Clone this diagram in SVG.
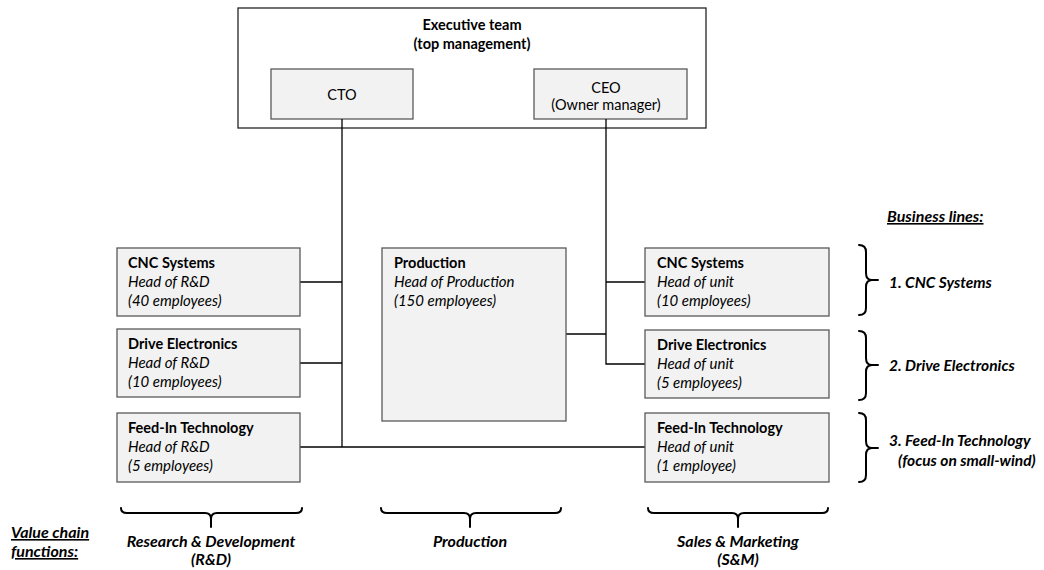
<svg xmlns="http://www.w3.org/2000/svg" width="1044" height="570" viewBox="0 0 1044 570">
  <style>
    text { font-family: Lato, "Open Sans", "Liberation Sans", sans-serif; font-size: 14.5px; fill: #000; }
    .b { font-weight: bold; }
    .i { font-style: italic; font-size: 15px; }
    .bi { font-weight: bold; font-style: italic; font-size: 15.5px; }
    .lg { font-size: 16px; }
    .u { text-decoration: underline; }
    .mid { text-anchor: middle; }
    .box { fill: #f2f2f2; stroke: #595959; stroke-width: 1.3; }
    .frame { fill: #fff; stroke: #262626; stroke-width: 1.3; }
    .conn { fill: none; stroke: #000; stroke-width: 1.3; }
    .brace { fill: none; stroke: #000; stroke-width: 2; stroke-linecap: round; stroke-linejoin: round; }
  </style>

  <rect width="1044" height="570" fill="#fff"/>

  <!-- executive team frame -->
  <g id="executive-team">
    <rect class="frame" x="238" y="8" width="468" height="120"/>
    <text class="b mid" x="472" y="30">Executive team</text>
    <text class="b mid" x="472" y="49">(top management)</text>
  </g>

  <g id="cto">
    <rect class="box" x="271" y="69" width="142" height="50"/>
    <text class="mid" x="342" y="100">CTO</text>
  </g>

  <g id="ceo">
    <rect class="box" x="534" y="69" width="153" height="50"/>
    <text class="mid" x="606" y="93">CEO</text>
    <text class="mid" x="606" y="110">(Owner manager)</text>
  </g>

  <!-- reporting lines -->
  <g id="connectors">
    <path class="conn" d="M342 119 V447"/>
    <path class="conn" d="M300 282 H342"/>
    <path class="conn" d="M300 363 H342"/>
    <path class="conn" d="M300 447 H645"/>
    <path class="conn" d="M606 119 V364 H645"/>
    <path class="conn" d="M606 282 H645"/>
    <path class="conn" d="M566 334 H606"/>
  </g>

  <!-- R&D units -->
  <g id="rd-cnc">
    <rect class="box" x="117" y="248" width="183" height="68"/>
    <text class="b" x="128" y="268">CNC Systems</text>
    <text class="i" x="128" y="287">Head of R&amp;D</text>
    <text class="i" x="128" y="306">(40 employees)</text>
  </g>
  <g id="rd-drive">
    <rect class="box" x="117" y="329" width="183" height="68"/>
    <text class="b" x="128" y="349">Drive Electronics</text>
    <text class="i" x="128" y="368">Head of R&amp;D</text>
    <text class="i" x="128" y="387">(10 employees)</text>
  </g>
  <g id="rd-feedin">
    <rect class="box" x="117" y="413" width="183" height="69"/>
    <text class="b" x="128" y="433">Feed-In Technology</text>
    <text class="i" x="128" y="452">Head of R&amp;D</text>
    <text class="i" x="128" y="471">(5 employees)</text>
  </g>

  <!-- production -->
  <g id="production">
    <rect class="box" x="382" y="248" width="184" height="173"/>
    <text class="b" x="394" y="268">Production</text>
    <text class="i" x="394" y="287">Head of Production</text>
    <text class="i" x="394" y="306">(150 employees)</text>
  </g>

  <!-- sales & marketing units -->
  <g id="sm-cnc">
    <rect class="box" x="645" y="248" width="184" height="68"/>
    <text class="b" x="657" y="268">CNC Systems</text>
    <text class="i" x="657" y="287">Head of unit</text>
    <text class="i" x="657" y="306">(10 employees)</text>
  </g>
  <g id="sm-drive">
    <rect class="box" x="645" y="330" width="184" height="68"/>
    <text class="b" x="657" y="350">Drive Electronics</text>
    <text class="i" x="657" y="369">Head of unit</text>
    <text class="i" x="657" y="388">(5 employees)</text>
  </g>
  <g id="sm-feedin">
    <rect class="box" x="645" y="413" width="184" height="69"/>
    <text class="b" x="657" y="433">Feed-In Technology</text>
    <text class="i" x="657" y="452">Head of unit</text>
    <text class="i" x="657" y="471">(1 employee)</text>
  </g>

  <!-- business lines legend -->
  <g id="business-lines">
    <text class="bi u lg" x="887" y="222">Business lines:</text>
    <path class="brace" d="M859 245 Q866 245 866 252 V273 Q866 280 872 280 H878 M872 280 Q866 280 866 287 V308 Q866 315 859 315"/>
    <text class="bi" x="889" y="288">1. CNC Systems</text>
    <path class="brace" d="M859 331 Q866 331 866 338 V358 Q866 365 872 365 H878 M872 365 Q866 365 866 372 V393 Q866 400 859 400"/>
    <text class="bi" x="889" y="371">2. Drive Electronics</text>
    <path class="brace" d="M859 413 Q866 413 866 420 V441 Q866 448 872 448 H878 M872 448 Q866 448 866 455 V475 Q866 482 859 482"/>
    <text class="bi" x="889" y="446">3. Feed-In Technology</text>
    <text class="bi" x="898" y="466">(focus on small-wind)</text>
  </g>

  <!-- value chain legend -->
  <g id="value-chain">
    <text class="bi u lg" x="11" y="538">Value chain</text>
    <text class="bi u lg" x="11" y="557">functions:</text>

    <path class="brace" d="M121 508 Q121 513 127 513 H205 Q211 513 211 519 V527 M211 519 Q211 513 217 513 H296 Q302 513 302 508"/>
    <text class="bi lg mid" x="211" y="547">Research &amp; Development</text>
    <text class="bi lg mid" x="211" y="565">(R&amp;D)</text>

    <path class="brace" d="M381 508 Q381 513 387 513 H464 Q470 513 470 519 V527 M470 519 Q470 513 476 513 H555 Q561 513 561 508"/>
    <text class="bi lg mid" x="470" y="547">Production</text>

    <path class="brace" d="M648 508 Q648 513 654 513 H732 Q738 513 738 519 V527 M738 519 Q738 513 744 513 H822 Q828 513 828 508"/>
    <text class="bi lg mid" x="738" y="547">Sales &amp; Marketing</text>
    <text class="bi lg mid" x="738" y="565">(S&amp;M)</text>
  </g>
</svg>
